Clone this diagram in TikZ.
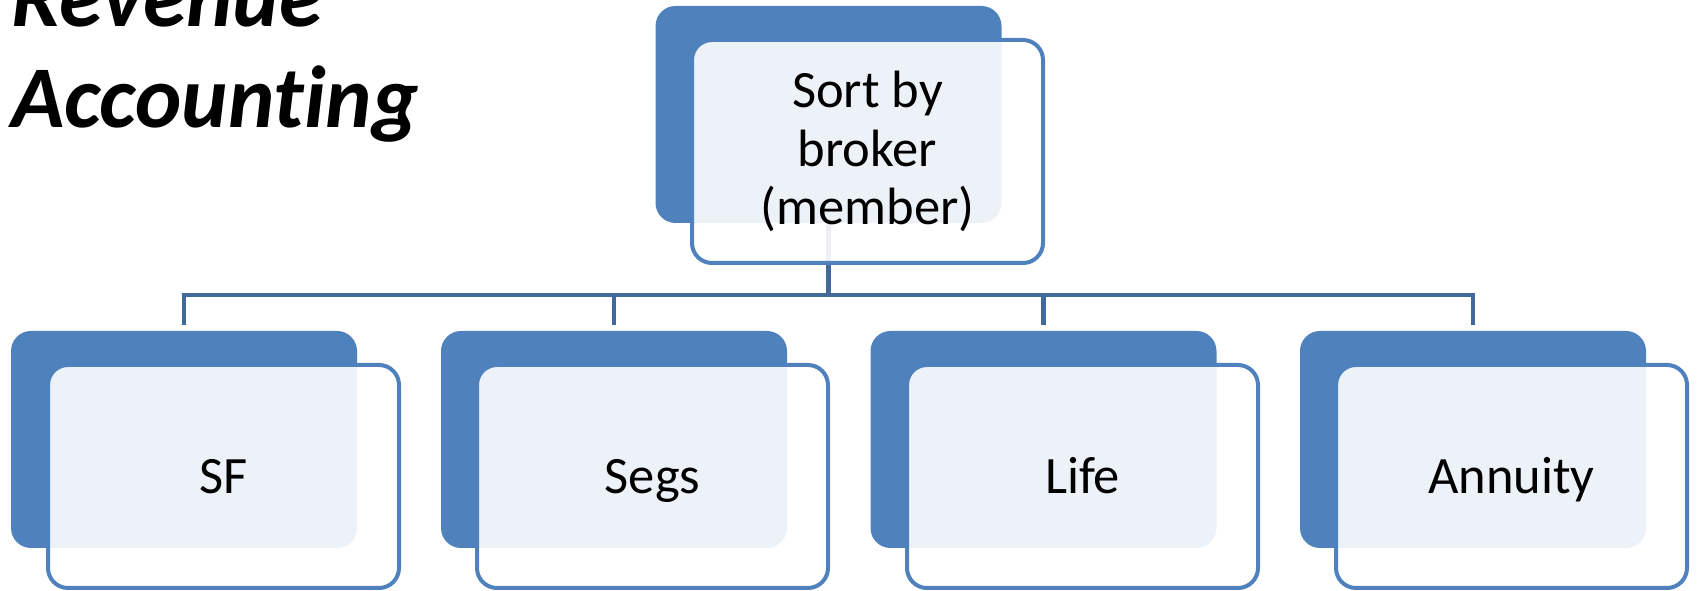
\documentclass[tikz,border=0pt]{standalone}
\usepackage{fontspec}
\setmainfont{Carlito}[Ligatures=NoCommon]
\usetikzlibrary{backgrounds}
\definecolor{accent}{HTML}{4F81BD}
\definecolor{connc}{HTML}{41699B}
\tikzset{
  backbox/.style={fill=accent, draw=none, rounded corners=20pt, minimum width=346pt, minimum height=217pt, inner sep=0pt},
  frontbox/.style={draw=accent, line width=4pt, fill=white, fill opacity=0.9, text opacity=1, rounded corners=20pt, minimum width=351pt, minimum height=223pt, inner sep=0pt, align=center, font=\fontsize{52.5}{58.5}\selectfont},
  onelabel/.style={text height=34pt, text depth=0pt},
  conn/.style={draw=connc, line width=4.5pt},
  titletext/.style={anchor=base west, inner sep=0pt, align=left, font=\fontsize{88}{101}\selectfont\bfseries\itshape}
}
\begin{document}
\begin{tikzpicture}[x=1pt,y=1pt]
\useasboundingbox (0,0) rectangle (1700,591);
\node[titletext] (title) at (11,463) {Revenue\\Accounting};
% top
\node[backbox] (tb) at (828.5,476.5) {};
\node[frontbox] (tf) at (867.5,439.5) {Sort by\\broker\\(member)};
% children
\node[backbox] (b1) at (184,151.5) {};
\node[frontbox, onelabel] (f1) at (223.5,114.5) {SF};
\node[backbox] (b2) at (614,151.5) {};
\node[frontbox, onelabel] (f2) at (652.5,114.5) {Segs};
\node[backbox] (b3) at (1043.5,151.5) {};
\node[frontbox, onelabel] (f3) at (1082.5,114.5) {Life};
\node[backbox] (b4) at (1473,151.5) {};
\node[frontbox, onelabel] (f4) at (1511.5,114.5) {Annuity};
\coordinate (bus) at (828.5,296);
\begin{scope}[on background layer]
\draw[conn] ([yshift=6pt]b1.north) |- (bus) -| ([yshift=6pt]b4.north);
\draw[conn] (tb.south) -- (bus);
\draw[conn] ([yshift=6pt]b2.north) -- (b2.north |- bus);
\draw[conn] ([yshift=6pt]b3.north) -- (b3.north |- bus);
\end{scope}
\end{tikzpicture}
\end{document}
